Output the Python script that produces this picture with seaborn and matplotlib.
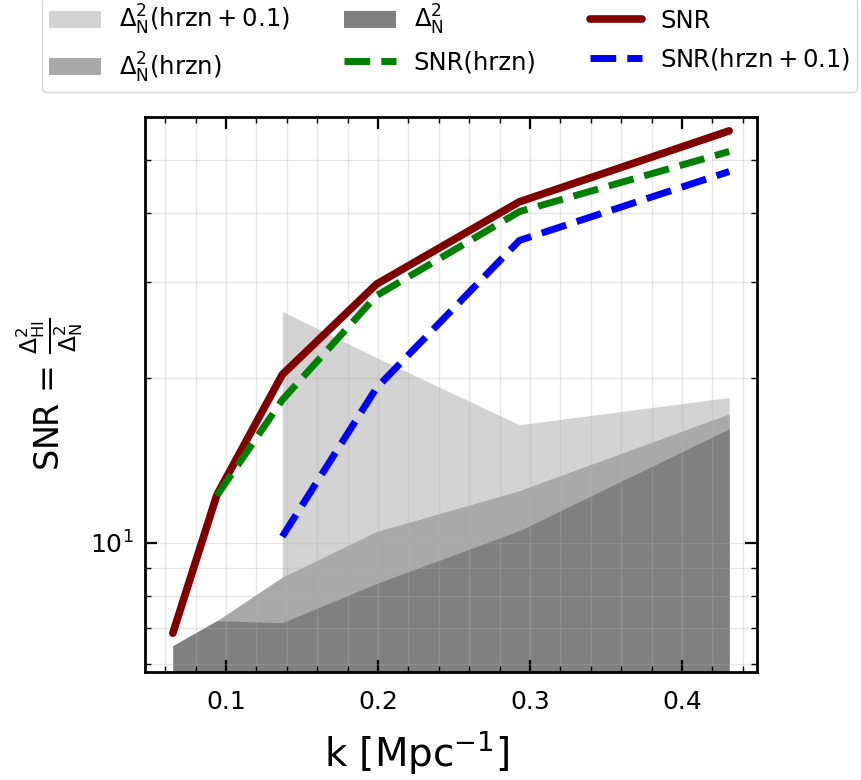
import matplotlib
matplotlib.use('Agg')
import matplotlib.pyplot as plt
import seaborn as sns
import pandas as pd
from matplotlib.ticker import LogLocator, NullFormatter, MultipleLocator

# ---- data ----
k = [0.065, 0.094, 0.137, 0.199, 0.293, 0.431]
snr = [6.84, 12.24, 20.3, 29.7, 42.0, 56.6]
k_hrzn = [0.094, 0.137, 0.199, 0.293, 0.431]
snr_hrzn = [12.2, 18.25, 28.3, 40.3, 51.9]
k_hrzn01 = [0.137, 0.199, 0.293, 0.431]
snr_hrzn01 = [10.27, 19.2, 35.7, 47.7]
noise = [6.49, 7.21, 7.15, 8.43, 10.53, 16.16]
noise_hrzn = [6.49, 7.21, 8.66, 10.49, 12.46, 17.21]
noise_hrzn01 = [26.5, 21.8, 16.44, 18.44]

labels = {
    'n01': r'$\Delta^2_{\rm N}(\rm hrzn+0.1)$',
    'nh': r'$\Delta^2_{\rm N}(\rm hrzn)$',
    'n': r'$\Delta^2_{\rm N}$',
    'sh': 'SNR(hrzn)',
    's': 'SNR',
    's01': r'$\rm SNR(hrzn+0.1)$',
}

sns.set_style('white')
plt.rcParams['font.family'] = ['DejaVu Sans']
plt.rcParams['mathtext.fontset'] = 'dejavusans'
plt.rcParams['text.color'] = 'black'
plt.rcParams['axes.labelcolor'] = 'black'
plt.rcParams['xtick.color'] = 'black'
plt.rcParams['ytick.color'] = 'black'

fig = plt.figure(figsize=(8.61, 7.80), dpi=100)
ax = fig.add_axes([145/861, 1-672/780, 612/861, 555/780])

ax.set_yscale('log')
ax.fill_between(k_hrzn01, 1, noise_hrzn01, color='#d3d3d3', lw=0, label=labels['n01'], zorder=1)
ax.fill_between(k, 1, noise_hrzn, color='#a9a9a9', lw=0, label=labels['nh'], zorder=1)
ax.fill_between(k, 1, noise, color='#808080', lw=0, label=labels['n'], zorder=1)

sns.lineplot(x=k_hrzn, y=snr_hrzn, ax=ax, color='green', lw=5, linestyle='--',
             label=labels['sh'], zorder=3)
sns.lineplot(x=k, y=snr, ax=ax, color='#800000', lw=5.5, label=labels['s'], zorder=2.5)
sns.lineplot(x=k_hrzn01, y=snr_hrzn01, ax=ax, color='blue', lw=5, linestyle='--',
             label=labels['s01'], zorder=3)

ax.set_xlim(0.0467, 0.4493)
ax.set_ylim(5.81, 60)

ax.xaxis.set_major_locator(MultipleLocator(0.1))
ax.xaxis.set_minor_locator(MultipleLocator(0.02))
ax.yaxis.set_major_locator(LogLocator(base=10))
ax.yaxis.set_minor_locator(LogLocator(base=10, subs=range(2, 10)))
ax.yaxis.set_minor_formatter(NullFormatter())

ax.set_axisbelow('line')
ax.grid(True, which='both', color='#b0b0b0', alpha=0.3, lw=1)

ax.tick_params(which='both', direction='in', top=True, right=True, bottom=True, left=True,
               color='black', labelcolor='black')
ax.tick_params(which='major', length=8.5, width=1.6, labelsize=18)
ax.tick_params(which='minor', length=4.3, width=1.0)
ax.tick_params(axis='x', which='major', pad=13)
ax.tick_params(axis='y', which='major', pad=8)
for s in ax.spines.values():
    s.set_linewidth(2.0)
    s.set_color('black')

ax.set_xlabel(r'k [Mpc$^{-1}$]', fontsize=28)
ax.xaxis.set_label_coords(0.444, -0.145)
ax.xaxis.label.set_va('center')
ax.set_ylabel(r'SNR = $\frac{\Delta^2_{\rm HI}}{\Delta^2_{\rm N}}$', fontsize=24)

h, l = ax.get_legend_handles_labels()
order = [labels['n01'], labels['nh'], labels['n'], labels['sh'], labels['s'], labels['s01']]
hd = dict(zip(l, h))
ax.legend([hd[o] for o in order], order, ncol=3, fontsize=17.5,
          loc='lower left', bbox_to_anchor=(42/861, 1-92/780), bbox_transform=fig.transFigure,
          borderaxespad=0, borderpad=0.3, handlelength=2.14, handletextpad=0.74,
          columnspacing=2.2, labelspacing=0.55, frameon=True)

fig.savefig('out.png', dpi=100)
